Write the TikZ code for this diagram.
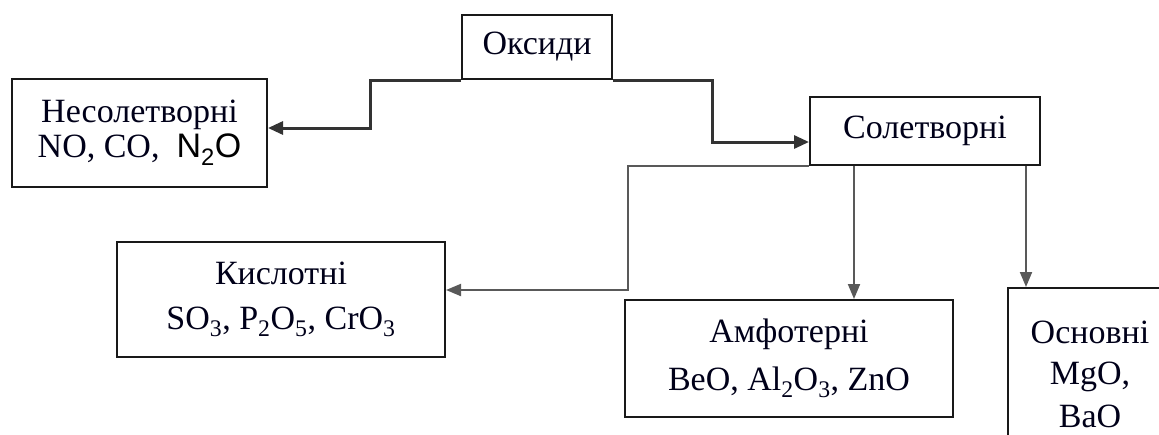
\documentclass[tikz,border=0pt]{standalone}
\usepackage{fontspec}
\setmainfont{Liberation Serif}
\newfontfamily\arialf{Liberation Sans}
\usetikzlibrary{arrows.meta}
\begin{document}
\begin{tikzpicture}[x=1pt,y=-1pt,
 box/.style={draw=black!90, line width=2pt, inner sep=0pt, align=center, text=black!90!blue, font=\fontsize{34}{37}\selectfont},
 main/.style={line width=3pt, draw=black!80, -{Triangle[length=15pt,width=13pt]}},
 sub/.style={line width=2pt, draw=black!65, -{Triangle[length=15pt,width=12pt]}}]
\useasboundingbox (0,0) rectangle (1159,434);
\clip (0,0) rectangle (1159,434);
\node[box, minimum width=150pt, minimum height=64pt] (oks) at (537,47) {Оксиди};
\node[box, minimum width=255pt, minimum height=108pt] (nes) at (139.5,133) {Несолетворні\\[-2pt]NO, CO,\ \ {\arialf\color{black} N\textsubscript{2}O}};
\node[box, minimum width=230pt, minimum height=68pt] (sol) at (925,131) {Солетворні};
\node[box, minimum width=328pt, minimum height=115pt] (kys) at (281,299.5) {Кислотні\\[8pt]SO\textsubscript{3}, P\textsubscript{2}O\textsubscript{5}, CrO\textsubscript{3}};
\node[box, minimum width=328pt, minimum height=117pt] (amf) at (789,358.5) {Амфотерні\\[11pt]BeO, Al\textsubscript{2}O\textsubscript{3}, ZnO};
\node[box, minimum width=164pt, minimum height=172pt] (osn) at (1090,374) {Основні\\[4pt]MgO,\\[6pt]BaO};
\coordinate (c1) at (370,0);
\coordinate (c2) at (712,0);
\coordinate (c3) at (628,0);
\coordinate (a1) at (854,0);
\coordinate (a2) at (1026,0);
\draw[main] (oks.south west) -- (oks.south west -| c1) |- ([yshift=5pt]nes.east);
\draw[main] (oks.south east) -- (oks.south east -| c2) |- ([yshift=-11pt]sol.west);
\draw[sub] (sol.south west) -- (sol.south west -| c3) |- ([yshift=9.5pt]kys.east);
\draw[sub] (sol.south -| a1) -- (amf.north -| a1);
\draw[sub] (sol.south -| a2) -- (osn.north -| a2);
\end{tikzpicture}
\end{document}
